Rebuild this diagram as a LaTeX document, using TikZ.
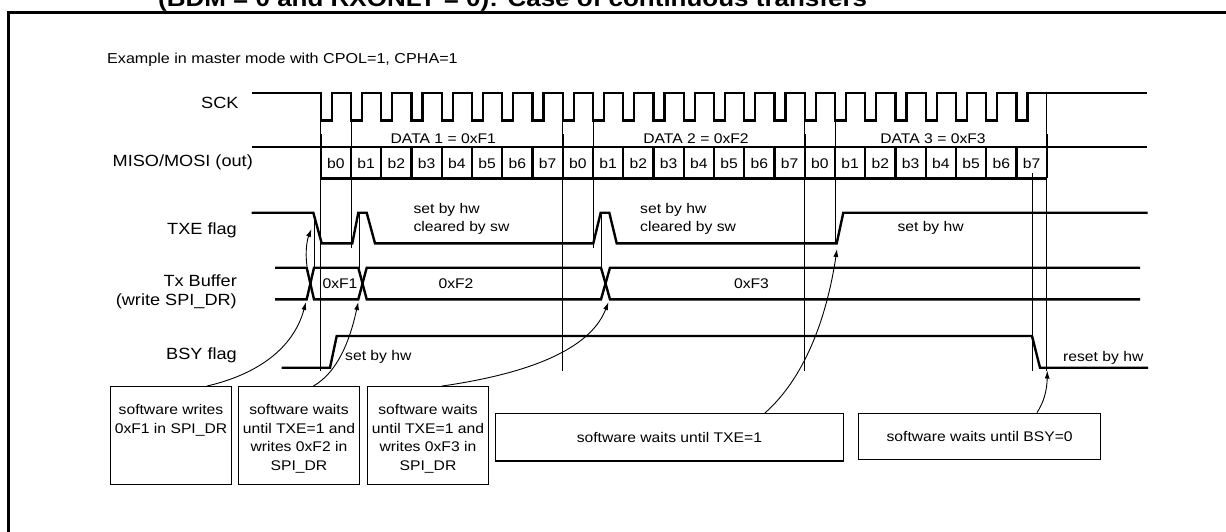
\documentclass[tikz,border=0pt]{standalone}
\usepackage{fontspec}
\setmainfont{Liberation Sans}[FakeStretch=1.12]
\usetikzlibrary{arrows.meta}
\newcommand\fsmall{\fontsize{14}{18.6}\selectfont}
\newcommand\flab{\fontsize{16.2}{18.5}\selectfont}
\newcommand\fexa{\fontsize{14.4}{18}\selectfont}
\newcommand\ftitle{\fontsize{23.2}{26}\selectfont\bfseries}
\begin{document}
\begin{tikzpicture}[x=1pt,y=-1pt,
  sig/.style={line width=2.4pt},
  fine/.style={line width=0.9pt},
  box/.style={draw, line width=1.2pt, inner sep=0pt},
  arr/.style={-{Latex[length=8pt,width=5pt]}, line width=0.9pt},
  txt/.style={inner sep=0pt, font=\fsmall},
  lab/.style={inner sep=0pt, font=\flab}]
\useasboundingbox (0,0) rectangle (1226,532);
\fill[white] (0,0) rectangle (1226,532);
% frame and clipped title
\draw[line width=2.5pt] (8.7,545) -- (8.7,12.3) -- (1240,12.3);
\node[anchor=base west, inner sep=0pt, font=\ftitle] (title) at (158,6.5) {(BDM = 0 and RXONLY = 0): Case of continuous transfers};
\node[anchor=west, inner sep=0pt, font=\fexa] (example) at (107,60) {Example in master mode with CPOL=1, CPHA=1};
% signal labels
\node[lab, anchor=east] (lsck) at (238.7,103) {SCK};
\node[lab, anchor=east] (lmiso) at (253,162) {MISO/MOSI (out)};
\node[lab, anchor=east] (ltxe) at (237,230) {TXE flag};
\node[lab, anchor=north east, align=right] (ltx) at (237,274.7) {Tx Buffer\\(write SPI\_DR)};
\node[lab, anchor=east] (lbsy) at (237,355) {BSY flag};
% SCK
\draw[sig] (252,93.3) \foreach \i in {0,...,23}{ -- ({320.7+\i*30.25},93.3) -- ++(0,27.4) -- ++(11,0) -- ++(0,-27.4)} -- (1147,93.3);
% MISO/MOSI
\draw[sig] (252,147.3) -- (1147,147.3);
\draw[sig] (320.7,178.3) -- (1046.7,178.3);
\foreach \i in {0,...,24} \draw[sig] ({320.7+\i*30.25},147.3) -- ++(0,31);
\foreach \i [evaluate=\i as \k using {int(mod(\i,8))}] in {0,...,23}
  \node[txt] (bit\i) at ({320.7+\i*30.25+15.1},163) {b\k};
\foreach \x in {320.7,562.7,804.7,1046.7} \draw[sig] (\x,134.5) -- (\x,147.3);
\node[txt] (d1) at (443.3,139) {DATA 1 = 0xF1};
\node[txt] (d2) at (696,139) {DATA 2 = 0xF2};
\node[txt] (d3) at (933,139) {DATA 3 = 0xF3};
% thin vertical markers
\draw[fine] (320.7,120.7) -- (320.7,370.7);
\draw[fine] (350.95,120.7) -- (350.95,248);
\draw[fine] (562.7,120.7) -- (562.7,370.7);
\draw[fine] (593,120.7) -- (593,248);
\draw[fine] (804.7,120.7) -- (804.7,370.7);
\draw[fine] (835,120.7) -- (835,243);
\draw[fine] (1032.7,173) -- (1032.7,370.7);
\draw[fine] (1046.7,93.3) -- (1046.7,370.7);
\draw[fine] (314,212.7) -- (314,267.7);
\draw[fine] (359,212.7) -- (359,267.7);
\draw[fine] (601.5,212.7) -- (601.5,267.7);
% TXE
\draw[sig] (251.7,212.7) -- (313.3,212.7) -- (321.7,243.3) -- (352.3,243.3) -- (358.3,212.7) -- (366.7,212.7) -- (375,243.3) -- (593.3,243.3) -- (600.7,212.7) -- (609.3,212.7) -- (616.7,243.3) -- (836.7,243.3) -- (843.3,212.7) -- (1147.7,212.7);
\node[txt, anchor=north west, align=left] (txe1) at (413.3,203) {set by hw\\cleared by sw};
\node[txt, anchor=north west, align=left] (txe2) at (640,203) {set by hw\\cleared by sw};
\node[txt, anchor=base west] (txe3) at (897.3,231.7) {set by hw};
% Tx buffer
\draw[sig] (275,267.7) -- (306.7,267.7) -- (314,299.3) -- (358.3,299.3) -- (366.7,267.7) -- (601,267.7) -- (610,299.3) -- (1140,299.3);
\draw[sig] (275,299.3) -- (306.7,299.3) -- (314,267.7) -- (358.3,267.7) -- (366.7,299.3) -- (601,299.3) -- (610,267.7) -- (1140,267.7);
\node[txt] (v1) at (340,284) {0xF1};
\node[txt] (v2) at (456,284) {0xF2};
\node[txt] (v3) at (751.5,284) {0xF3};
% BSY
\draw[sig] (281.7,367.7) -- (330,367.7) -- (336.7,336) -- (1032,336) -- (1040,367.7) -- (1148,367.7);
\node[txt, anchor=base west] (bsy1) at (345,360) {set by hw};
\node[txt, anchor=base west] (bsy2) at (1063,361) {reset by hw};
% boxes
\node[box, minimum width=121.4pt, minimum height=97.6pt] (box1) at (171,435.5) {};
\node[box, minimum width=121.4pt, minimum height=97.6pt] (box2) at (299,435.5) {};
\node[box, minimum width=121.4pt, minimum height=97.6pt] (box3) at (428,435.5) {};
\node[box, minimum width=348.2pt, minimum height=47.3pt, font=\fsmall] (box4) at (669.4,437.35) {software waits until TXE=1};
\node[box, minimum width=241.7pt, minimum height=46pt, font=\fsmall] (box5) at (979.65,436.3) {software waits until BSY=0};
\node[txt, align=center, anchor=north] (t1) at ([yshift=-18pt]box1.north) {software writes\\0xF1 in SPI\_DR};
\node[txt, align=center, anchor=north] (t2) at ([yshift=-18pt]box2.north) {software waits\\until TXE=1 and\\writes 0xF2 in\\SPI\_DR};
\node[txt, align=center, anchor=north] (t3) at ([yshift=-18pt]box3.north) {software waits\\until TXE=1 and\\writes 0xF3 in\\SPI\_DR};
% arrow targets
\coordinate (a1) at (306,302);
\coordinate (a2s) at (307,266.5);
\coordinate (a2) at (311.5,229);
\coordinate (a3) at (358.3,302);
\coordinate (a4) at (608.5,302);
\coordinate (a5) at (837,249);
\coordinate (a6) at (1047.3,370.5);
% arrows
\draw[arr] ([xshift=35.7pt]box1.north) .. controls (255,375) and (293,350) .. (a1);
\draw[arr] (a2s) .. controls (305,252) and (307,240) .. (a2);
\draw[arr] ([xshift=14.3pt]box2.north) .. controls (338,372) and (350,340) .. (a3);
\draw[arr] ([xshift=13.7pt]box3.north) .. controls (540,372) and (592,345) .. (a4);
\draw[arr] ([xshift=95.4pt]box4.north) .. controls (808,375) and (828,310) .. (a5);
\draw[arr] ([xshift=57.3pt]box5.north) .. controls (1044,402) and (1047,390) .. (a6);
\end{tikzpicture}
\end{document}
